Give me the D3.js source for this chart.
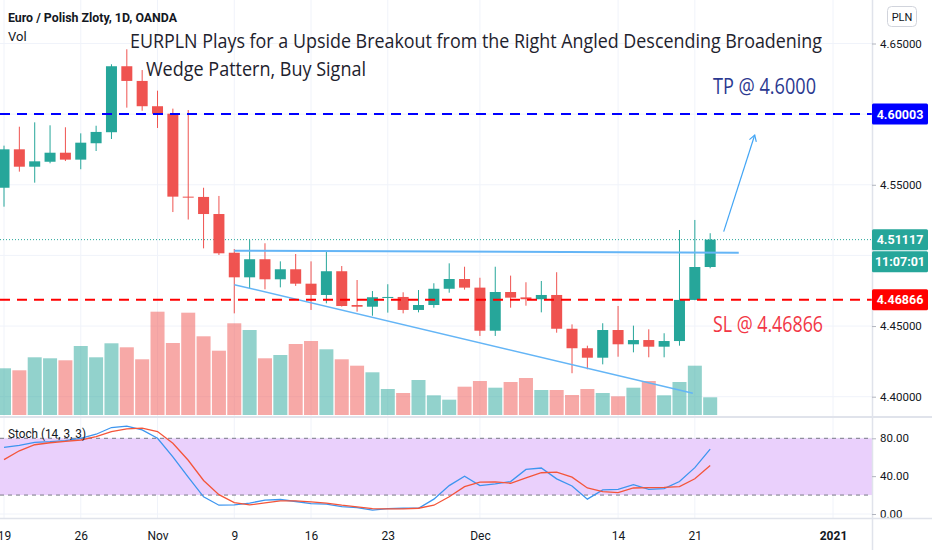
<!DOCTYPE html>
<html>
<head>
<meta charset="utf-8">
<script src="https://cdn.jsdelivr.net/npm/d3@7"></script>
<style>
  body { margin: 0; background: #fff; }
  svg { display: block; font-family: Roboto, "Open Sans", sans-serif; }
</style>
</head>
<body>
<svg id="chart" width="932" height="550"></svg>
<script>
// Daily EURPLN bars (OANDA)
const dates = [
  "2020-10-19", "2020-10-20", "2020-10-21", "2020-10-22", "2020-10-23",
  "2020-10-26", "2020-10-27", "2020-10-28", "2020-10-29", "2020-10-30",
  "2020-11-02", "2020-11-03", "2020-11-04", "2020-11-05", "2020-11-06",
  "2020-11-09", "2020-11-10", "2020-11-11", "2020-11-12", "2020-11-13",
  "2020-11-16", "2020-11-17", "2020-11-18", "2020-11-19", "2020-11-20",
  "2020-11-23", "2020-11-24", "2020-11-25", "2020-11-26", "2020-11-27",
  "2020-11-30", "2020-12-01", "2020-12-02", "2020-12-03", "2020-12-04",
  "2020-12-07", "2020-12-08", "2020-12-09", "2020-12-10", "2020-12-11",
  "2020-12-14", "2020-12-15", "2020-12-16", "2020-12-17", "2020-12-18",
  "2020-12-21", "2020-12-22"
];
const open = [
  4.5479, 4.5751, 4.5628, 4.5663, 4.5727, 4.5678, 4.5794, 4.5872, 4.6339, 4.6235,
  4.6056, 4.6003, 4.5416, 4.5414, 4.5293, 4.5019, 4.4845, 4.4973, 4.4831, 4.4902,
  4.4800, 4.4720, 4.4888, 4.4649, 4.4637, 4.4704, 4.4706, 4.4614, 4.4649, 4.4764,
  4.4833, 4.4772, 4.4467, 4.4741, 4.4703, 4.4690, 4.4720, 4.4481, 4.4343, 4.4276,
  4.4472, 4.4371, 4.4401, 4.4354, 4.4394, 4.4685, 4.4918
];
const high = [
  4.5777, 4.5911, 4.5942, 4.5921, 4.5907, 4.5864, 4.5918, 4.6353, 4.6459, 4.6312,
  4.6166, 4.6039, 4.6029, 4.5479, 4.5421, 4.5045, 4.5109, 4.5086, 4.4958, 4.5010,
  4.4958, 4.5029, 4.4925, 4.4826, 4.4748, 4.4796, 4.4739, 4.4755, 4.4803, 4.4944,
  4.4920, 4.4842, 4.4920, 4.4857, 4.4810, 4.4819, 4.4881, 4.4512, 4.4361, 4.4520,
  4.4642, 4.4503, 4.4477, 4.4449, 4.5180, 4.5251, 4.5157
];
const low = [
  4.5345, 4.5593, 4.5515, 4.5652, 4.5668, 4.5610, 4.5739, 4.5824, 4.6046, 4.6024,
  4.5902, 4.5307, 4.5254, 4.5050, 4.5003, 4.4590, 4.4767, 4.4760, 4.4774, 4.4784,
  4.4614, 4.4661, 4.4638, 4.4602, 4.4573, 4.4595, 4.4590, 4.4597, 4.4630, 4.4736,
  4.4758, 4.4430, 4.4430, 4.4630, 4.4644, 4.4597, 4.4453, 4.4166, 4.4194, 4.4229,
  4.4283, 4.4314, 4.4279, 4.4279, 4.4361, 4.4683, 4.4909
];
const close = [
  4.5751, 4.5628, 4.5666, 4.5727, 4.5678, 4.5798, 4.5874, 4.6339, 4.6235, 4.6056,
  4.6003, 4.5416, 4.5414, 4.5293, 4.5015, 4.4845, 4.4973, 4.4831, 4.4902, 4.4800,
  4.4720, 4.4888, 4.4642, 4.4637, 4.4704, 4.4706, 4.4614, 4.4649, 4.4764, 4.4833,
  4.4772, 4.4467, 4.4741, 4.4701, 4.4690, 4.4720, 4.4481, 4.4343, 4.4276, 4.4472,
  4.4371, 4.4401, 4.4354, 4.4394, 4.4685, 4.4918, 4.51117
];
const volume = [
  46700, 44700, 57700, 56700, 54700, 69000, 57700, 71700, 67700, 55700,
  103300, 72000, 102300, 78700, 64300, 91700, 85000, 56700, 60000, 71000,
  74000, 65700, 55700, 49300, 42700, 26000, 22000, 35000, 19700, 15300,
  28300, 34000, 27300, 33000, 37000, 25000, 25000, 20000, 26000, 22000,
  18700, 27300, 34000, 19700, 33000, 49300, 17700
];
// Stoch (14, 3, 3)
const stochK = [
  70.4, 72.5, 75.7, 76.4, 77.5, 80.0, 84.3, 91.4, 92.9, 88.9,
  80.0, 60.3, 38.9, 18.2, 9.3, 9.6, 11.5, 14.7, 15.3, 13.2,
  11.0, 10.4, 7.8, 6.8, 4.0, 5.7, 6.1, 6.1, 15.7, 30.0,
  40.0, 30.0, 31.8, 34.3, 47.1, 48.6, 37.1, 29.6, 15.7, 25.4,
  26.0, 31.1, 26.0, 26.8, 34.3, 49.0, 68.6
];
const stochD = [
  57.5, 66.8, 73.2, 75.3, 76.8, 78.2, 81.8, 87.1, 90.0, 90.7,
  87.1, 74.7, 56.8, 35.4, 20.4, 12.1, 9.6, 11.8, 13.9, 13.9,
  12.9, 11.5, 9.3, 7.5, 5.7, 5.4, 5.4, 6.1, 9.3, 18.2,
  28.9, 33.6, 34.0, 32.5, 38.2, 43.6, 44.3, 38.9, 27.5, 23.6,
  22.5, 27.5, 27.9, 28.2, 28.9, 37.2, 51.3
];

// Axis ticks (bar index on the time axis, 54 = 1 Jan 2021)
const timeTickIndex = [0, 5, 10, 15, 20, 25, 31, 40, 45, 54];
const timeTickLabels = ["19", "26", "Nov", "9", "16", "23", "Dec", "14", "21", "2021"];
const priceTicks = [4.40, 4.45, 4.50, 4.55, 4.60, 4.65];
const stochTicks = [0, 40, 80];

// Levels and drawings
const tpLevel = 4.60003;
const slLevel = 4.46866;
const lastPrice = 4.51117;
const countdown = "11:07:01";
const upperLine = [[15, 4.5033], [47.86, 4.5019]];
const lowerLine = [[15, 4.4793], [44.87, 4.4024]];
const arrowLine = [[46.88, 4.5168], [48.9, 4.5852]];

const bars = dates.map((d, i) => ({
  i, date: d, o: open[i], h: high[i], l: low[i], c: close[i], v: volume[i]
}));

const svg = d3.select("#chart");
const paneRight = 872;
const mainBottom = 416;
const stochTop = 418, stochBottom = 518;

const up = "#26a69a", down = "#ef5350";
const gridColor = "#f0f3fa", borderColor = "#e0e3eb";

// Set scales
const x = d3.scaleLinear().domain([0, 54]).range([4, 833]);
const y = d3.scaleLinear().domain([4.40, 4.65]).range([396.7, 43.5]);
const yVol = d3.scaleLinear().domain([0, 130000]).range([415, 285]);
const yStoch = d3.scaleLinear().domain([0, 80]).range([514, 438.3]);

const defs = svg.append("defs");
defs.append("clipPath").attr("id", "clip-main")
  .append("rect").attr("x", 0).attr("y", 0).attr("width", paneRight).attr("height", mainBottom);
defs.append("clipPath").attr("id", "clip-stoch")
  .append("rect").attr("x", 0).attr("y", stochTop).attr("width", paneRight).attr("height", stochBottom - stochTop);
defs.append("clipPath").attr("id", "clip-stoch-axis")
  .append("rect").attr("x", paneRight).attr("y", stochTop).attr("width", 60).attr("height", stochBottom - stochTop - 0.5);

// Main pane
const main = svg.append("g").attr("clip-path", "url(#clip-main)");

main.selectAll(".vgrid")
  .data(timeTickIndex)
  .enter().append("line")
  .attr("x1", d => x(d)).attr("x2", d => x(d))
  .attr("y1", 0).attr("y2", mainBottom)
  .attr("stroke", gridColor);

main.selectAll(".hgrid")
  .data(priceTicks)
  .enter().append("line")
  .attr("x1", 0).attr("x2", paneRight)
  .attr("y1", d => y(d)).attr("y2", d => y(d))
  .attr("stroke", gridColor);

// Volume overlay
main.selectAll(".vol")
  .data(bars)
  .enter().append("rect")
  .attr("x", d => x(d.i) - 7)
  .attr("y", d => yVol(d.v))
  .attr("width", 14)
  .attr("height", d => yVol(0) - yVol(d.v))
  .attr("fill", d => d.c >= d.o ? up : down)
  .attr("fill-opacity", 0.5);

// Last price line
main.append("line")
  .attr("x1", 0).attr("x2", paneRight)
  .attr("y1", y(lastPrice)).attr("y2", y(lastPrice))
  .attr("stroke", up).attr("stroke-width", 1).attr("stroke-dasharray", "1,2");

// Candles
main.selectAll(".wick")
  .data(bars)
  .enter().append("line")
  .attr("x1", d => x(d.i)).attr("x2", d => x(d.i))
  .attr("y1", d => y(d.h)).attr("y2", d => y(d.l))
  .attr("stroke", d => d.c >= d.o ? up : down)
  .attr("stroke-width", 1);

main.selectAll(".body")
  .data(bars)
  .enter().append("rect")
  .attr("x", d => x(d.i) - 5.5)
  .attr("y", d => y(Math.max(d.o, d.c)))
  .attr("width", 11)
  .attr("height", d => Math.max(1, Math.abs(y(d.o) - y(d.c))))
  .attr("fill", d => d.c >= d.o ? up : down);

// Wedge lines and arrow
const line = d3.line().x(d => x(d[0])).y(d => y(d[1]));
main.append("path").attr("d", line(upperLine))
  .attr("fill", "none").attr("stroke", "#64b5f6").attr("stroke-width", 2);
main.append("path").attr("d", line(lowerLine))
  .attr("fill", "none").attr("stroke", "#64b5f6").attr("stroke-width", 1.5);
main.append("path").attr("d", line(arrowLine))
  .attr("fill", "none").attr("stroke", "#42a5f5").attr("stroke-width", 1.2);

const tip = [x(arrowLine[1][0]), y(arrowLine[1][1])];
const tail = [x(arrowLine[0][0]), y(arrowLine[0][1])];
const ang = Math.atan2(tip[1] - tail[1], tip[0] - tail[0]);
main.append("path")
  .attr("d", `M${tip[0] + 7 * Math.cos(ang + 2.6)},${tip[1] + 7 * Math.sin(ang + 2.6)}L${tip[0]},${tip[1]}L${tip[0] + 7 * Math.cos(ang - 2.6)},${tip[1] + 7 * Math.sin(ang - 2.6)}`)
  .attr("fill", "none").attr("stroke", "#42a5f5").attr("stroke-width", 1.2);

// TP / SL levels
main.append("line")
  .attr("x1", 0).attr("x2", paneRight)
  .attr("y1", y(tpLevel)).attr("y2", y(tpLevel))
  .attr("stroke", "#0000ff").attr("stroke-width", 2).attr("stroke-dasharray", "10,7");
main.append("line")
  .attr("x1", 0).attr("x2", paneRight)
  .attr("y1", y(slLevel)).attr("y2", y(slLevel))
  .attr("stroke", "#ff0000").attr("stroke-width", 2).attr("stroke-dasharray", "10,7");

// Texts on the main pane
svg.append("text").attr("x", 8).attr("y", 22)
  .attr("font-size", 13).attr("font-weight", "bold").attr("fill", "#131722")
  .attr("textLength", 169).attr("lengthAdjust", "spacingAndGlyphs")
  .text("Euro / Polish Zloty, 1D, OANDA");
svg.append("text").attr("x", 8).attr("y", 40.5)
  .attr("font-size", 13).attr("fill", "#131722")
  .text("Vol");

svg.append("text").attr("x", 130).attr("y", 47.5)
  .attr("font-family", "'Open Sans', sans-serif").attr("font-size", 20).attr("fill", "#1e222d")
  .attr("textLength", 692).attr("lengthAdjust", "spacingAndGlyphs")
  .text("EURPLN Plays for a Upside Breakout from the Right Angled Descending Broadening");
svg.append("text").attr("x", 146).attr("y", 76)
  .attr("font-family", "'Open Sans', sans-serif").attr("font-size", 20).attr("fill", "#1e222d")
  .attr("textLength", 220).attr("lengthAdjust", "spacingAndGlyphs")
  .text("Wedge Pattern, Buy Signal");

svg.append("text").attr("x", 713).attr("y", 94)
  .attr("font-family", "'Open Sans', sans-serif").attr("font-size", 21).attr("fill", "#2b3990")
  .attr("textLength", 103).attr("lengthAdjust", "spacingAndGlyphs")
  .text("TP @ 4.6000");
svg.append("text").attr("x", 713).attr("y", 332)
  .attr("font-family", "'Open Sans', sans-serif").attr("font-size", 21).attr("fill", "#f23645")
  .attr("textLength", 110).attr("lengthAdjust", "spacingAndGlyphs")
  .text("SL @ 4.46866");

// Pane separator
svg.append("line")
  .attr("x1", 0).attr("x2", 932).attr("y1", 417).attr("y2", 417)
  .attr("stroke", borderColor).attr("stroke-width", 2);

// Stoch pane
const stoch = svg.append("g").attr("clip-path", "url(#clip-stoch)");

stoch.selectAll(".vgrid")
  .data(timeTickIndex)
  .enter().append("line")
  .attr("x1", d => x(d)).attr("x2", d => x(d))
  .attr("y1", stochTop).attr("y2", stochBottom)
  .attr("stroke", gridColor);

stoch.selectAll(".hgrid")
  .data(stochTicks)
  .enter().append("line")
  .attr("x1", 0).attr("x2", paneRight)
  .attr("y1", d => yStoch(d)).attr("y2", d => yStoch(d))
  .attr("stroke", gridColor);

stoch.append("rect")
  .attr("x", 0).attr("width", paneRight)
  .attr("y", yStoch(80)).attr("height", yStoch(20) - yStoch(80))
  .attr("fill", "#ead0fc");

[80, 20].forEach(v => {
  stoch.append("line")
    .attr("x1", 0).attr("x2", paneRight)
    .attr("y1", yStoch(v)).attr("y2", yStoch(v))
    .attr("stroke", "#787b86").attr("stroke-width", 1).attr("stroke-dasharray", "4,4");
});

const kLine = d3.line().x((d, i) => x(i)).y(d => yStoch(d));
stoch.append("path").attr("d", kLine(stochK))
  .attr("fill", "none").attr("stroke", "#3d95ef").attr("stroke-width", 1.3);
stoch.append("path").attr("d", kLine(stochD))
  .attr("fill", "none").attr("stroke", "#f4553a").attr("stroke-width", 1.3);

svg.append("text").attr("x", 8).attr("y", 438)
  .attr("font-size", 12.5).attr("fill", "#131722")
  .attr("textLength", 78).attr("lengthAdjust", "spacingAndGlyphs")
  .text("Stoch (14, 3, 3)");

// Borders of the axes
svg.append("line")
  .attr("x1", 0).attr("x2", 932).attr("y1", 518.5).attr("y2", 518.5)
  .attr("stroke", borderColor).attr("stroke-width", 1.5);
svg.append("line")
  .attr("x1", paneRight + 0.5).attr("x2", paneRight + 0.5).attr("y1", 0).attr("y2", 550)
  .attr("stroke", borderColor).attr("stroke-width", 1.5);

// Add axes
const boxes = [y(tpLevel), y(lastPrice), y(lastPrice) + 22, y(slLevel)];
const visiblePriceTicks = priceTicks.filter(p => boxes.every(b => Math.abs(y(p) - b) > 11));

const priceAxis = svg.append("g")
  .attr("transform", `translate(${paneRight},0)`)
  .call(d3.axisRight(y).tickValues(visiblePriceTicks).tickSize(4).tickPadding(4).tickFormat(d3.format(".5f")));
priceAxis.select(".domain").remove();
priceAxis.selectAll("line").attr("stroke", "#b2b5be");
priceAxis.selectAll("text").attr("font-size", 11.5).attr("fill", "#131722").attr("font-family", "Roboto, sans-serif");

const stochAxis = svg.append("g")
  .attr("clip-path", "url(#clip-stoch-axis)")
  .append("g")
  .attr("transform", `translate(${paneRight},0)`)
  .call(d3.axisRight(yStoch).tickValues(stochTicks).tickSize(4).tickPadding(4).tickFormat(d3.format(".2f")));
stochAxis.select(".domain").remove();
stochAxis.selectAll("line").attr("stroke", "#b2b5be");
stochAxis.selectAll("text").attr("font-size", 11.5).attr("fill", "#131722").attr("font-family", "Roboto, sans-serif");

const timeAxis = svg.append("g")
  .attr("transform", `translate(0,${stochBottom})`)
  .call(d3.axisBottom(x).tickValues(timeTickIndex).tickSize(0).tickPadding(13)
    .tickFormat((d, i) => timeTickLabels[i]));
timeAxis.select(".domain").remove();
timeAxis.selectAll("text")
  .attr("font-size", 12).attr("fill", "#131722").attr("font-family", "Roboto, sans-serif")
  .attr("font-weight", (d, i) => timeTickLabels[i] === "2021" ? "bold" : "normal");

// Price labels on the right axis
const labels = [
  { yv: y(tpLevel), text: d3.format(".5f")(tpLevel), fill: "#0000ff" },
  { yv: y(lastPrice), text: d3.format(".5f")(lastPrice), fill: up },
  { yv: y(lastPrice) + 22, text: countdown, fill: up },
  { yv: y(slLevel), text: d3.format(".5f")(slLevel), fill: "#ff0000" }
];
const lab = svg.selectAll(".plabel")
  .data(labels)
  .enter().append("g")
  .attr("transform", d => `translate(${paneRight},${d.yv})`);
lab.append("rect")
  .attr("x", 0).attr("y", -10.5).attr("width", 56).attr("height", 21)
  .attr("rx", 1.5)
  .attr("fill", d => d.fill);
lab.append("text")
  .attr("x", 28).attr("y", 4.5)
  .attr("text-anchor", "middle")
  .attr("font-size", 12.5).attr("font-weight", "bold").attr("fill", "#fff")
  .text(d => d.text);

// Currency badge
svg.append("rect")
  .attr("x", 887.5).attr("y", 6.5).attr("width", 29).attr("height", 20).attr("rx", 4)
  .attr("fill", "#fff").attr("stroke", "#d1d4dc");
svg.append("text")
  .attr("x", 902).attr("y", 20.5).attr("text-anchor", "middle")
  .attr("font-size", 11).attr("fill", "#131722")
  .text("PLN");
</script>
</body>
</html>
